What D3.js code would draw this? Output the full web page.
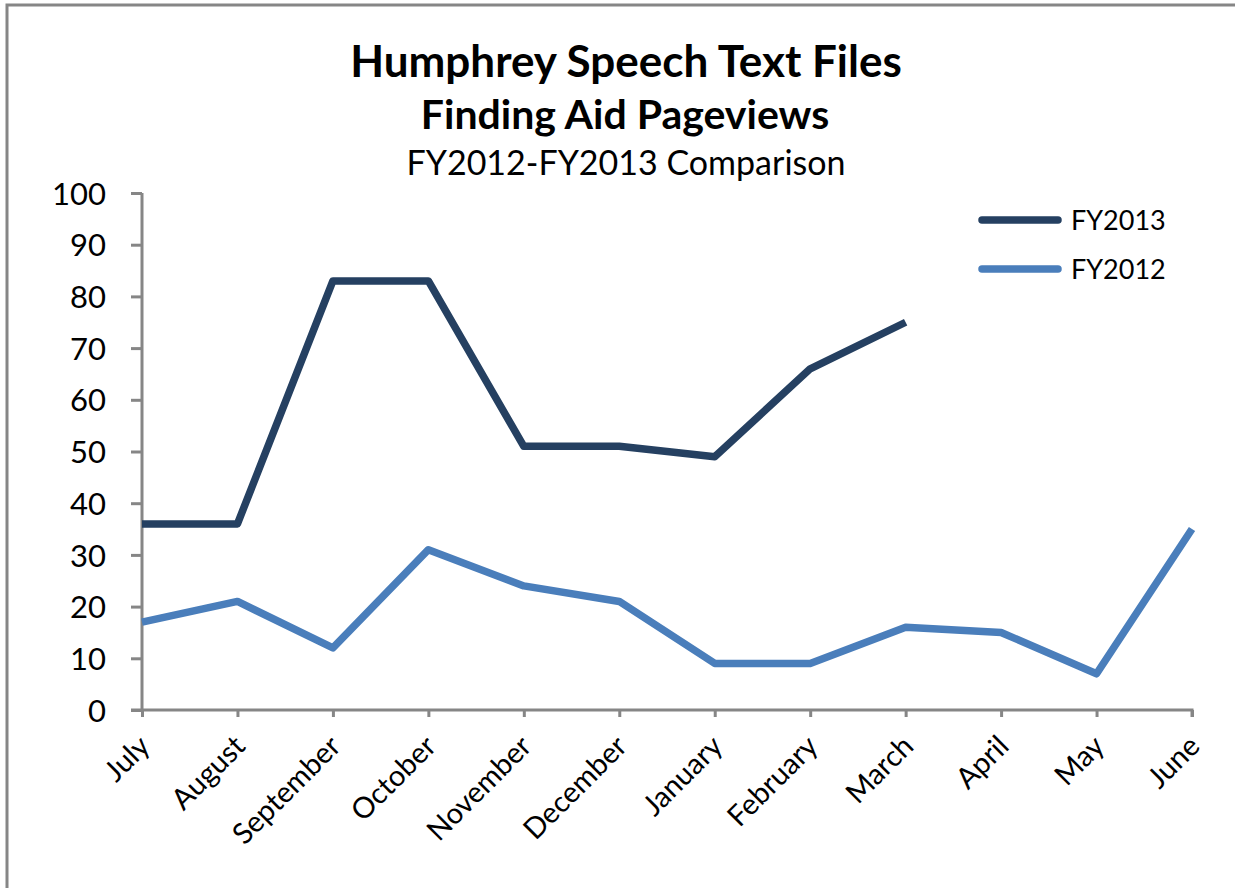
<!DOCTYPE html>
<html>
<head>
<meta charset="utf-8">
<script src="https://cdn.jsdelivr.net/npm/d3@7"></script>
<style>
  html, body { margin: 0; padding: 0; background: #fff; }
  svg { display: block; }
  text { font-family: Lato, "Open Sans", "Noto Sans", sans-serif; fill: #000; }
</style>
</head>
<body>
<svg id="chart" width="1235" height="888"></svg>
<script>
const months = ["July","August","September","October","November","December","January","February","March","April","May","June"];
const fy2013 = [36, 36, 83, 83, 51, 51, 49, 66, 75, null, null, null];
const fy2012 = [17, 21, 12, 31, 24, 21, 9, 9, 16, 15, 7, 35];
const yTicks = [0, 10, 20, 30, 40, 50, 60, 70, 80, 90, 100];
const seriesNames = ["FY2013", "FY2012"];
const seriesColors = ["#254061", "#4A7EBB"];
const titleLines = ["Humphrey Speech Text Files", "Finding Aid Pageviews", "FY2012-FY2013 Comparison"];

const svg = d3.select("#chart");

// outer border (extends past right/bottom edges like the reference)
svg.append("rect").attr("x", 7).attr("y", 5).attr("width", 1240).attr("height", 900)
  .attr("fill", "none").attr("stroke", "#868686").attr("stroke-width", 3);

const x = d3.scalePoint().domain(months).range([142, 1192]);
const y = d3.scaleLinear().domain([0, 100]).range([710, 193]);

// titles
svg.append("text").attr("x", 626).attr("y", 77).attr("text-anchor", "middle")
  .style("font-size", "44px").style("font-weight", "bold").text(titleLines[0]);
svg.append("text").attr("x", 625).attr("y", 129).attr("text-anchor", "middle")
  .style("font-size", "41px").style("font-weight", "bold").text(titleLines[1]);
svg.append("text").attr("x", 626).attr("y", 175).attr("text-anchor", "middle")
  .style("font-size", "34px").text(titleLines[2]);

// y axis
const yAxis = d3.axisLeft(y).tickValues(yTicks).tickSize(11).tickPadding(25);
const gy = svg.append("g").attr("transform", "translate(142,0)").call(yAxis);
gy.selectAll("path, line").attr("stroke", "#868686").attr("stroke-width", 3);
gy.select(".domain").attr("d", `M0,${y(100)}V${y(0)}`);
gy.selectAll("text").style("font-size", "31px").style("font-family", "Lato, 'Open Sans', sans-serif")
  .attr("fill", "#000").attr("dy", "0.36em");

// x axis
const xAxis = d3.axisBottom(x).tickSize(7).tickPadding(0);
const gx = svg.append("g").attr("transform", "translate(0,710)").call(xAxis);
gx.selectAll("path, line").attr("stroke", "#868686").attr("stroke-width", 3);
gx.select(".domain").attr("d", `M131,0H1192V7`);
gx.selectAll("text")
  .style("font-size", "29px").style("font-family", "Lato, 'Open Sans', sans-serif").attr("fill", "#000")
  .attr("text-anchor", "end")
  .attr("dy", null).attr("y", 0)
  .attr("transform", "translate(9,38) rotate(-45)");

// lines
const line = d3.line().defined(d => d.v != null).x(d => x(d.m)).y(d => y(d.v));
[fy2013, fy2012].forEach((vals, i) => {
  const data = months.map((m, j) => ({ m, v: vals[j] }));
  svg.append("path").datum(data).attr("d", line)
    .attr("fill", "none").attr("stroke", seriesColors[i]).attr("stroke-width", 7.5)
    .attr("stroke-linejoin", "round");
});

// legend
seriesNames.forEach((name, i) => {
  const ly = 220 + i * 49;
  svg.append("line").attr("x1", 982).attr("x2", 1058).attr("y1", ly).attr("y2", ly)
    .attr("stroke", seriesColors[i]).attr("stroke-width", 7.5).attr("stroke-linecap", "round");
  svg.append("text").attr("x", 1071).attr("y", ly).attr("dy", "0.36em")
    .style("font-size", "27px").text(name);
});
</script>
</body>
</html>
